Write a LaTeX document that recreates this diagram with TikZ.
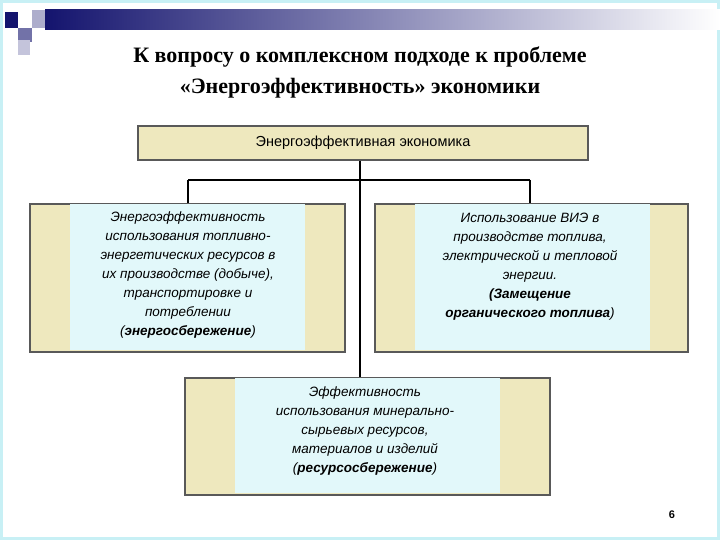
\documentclass[tikz,border=0pt]{standalone}
\usepackage{fontspec}
\setmainfont{Liberation Sans}
\newfontfamily\serifb{Liberation Serif}
\definecolor{beige}{RGB}{238,232,190}
\definecolor{cyanin}{RGB}{226,248,250}
\definecolor{navy}{RGB}{20,20,110}
\definecolor{bord}{RGB}{200,240,245}
\begin{document}
\begin{tikzpicture}[x=1pt,y=-1pt,
  outer/.style={draw=gray!70!black,line width=1.2pt,fill=beige},
  inner/.style={fill=cyanin},
  txt/.style={align=center,font=\fontsize{13.5}{19}\selectfont\itshape},
  conn/.style={line width=1.3pt}]
\useasboundingbox (0,0) rectangle (720,540);
\fill[white] (0,0) rectangle (720,540);
\draw[bord,line width=3pt] (1.5,1.5) rectangle (718.5,538.5);
% header bar
\shade[left color=navy,right color=white] (45,10) rectangle (720,30);
\fill[navy] (5,12) rectangle (18,28);
\fill[navy!60!white] (18,28) rectangle (32,42);
\fill[navy!35!white] (32,10) rectangle (45,28);
\fill[navy!25!white] (18,40) rectangle (30,55);
% title
\node (title) [font=\serifb\bfseries\fontsize{22}{31}\selectfont,align=center] at (360,72) {К вопросу о комплексном подходе к проблеме\\«Энергоэффективность» экономики};
% top box
\node (top) [outer,minimum width=450,minimum height=34,font=\fontsize{14.5}{16}\selectfont] at (363,143) {Энергоэффективная экономика};
% connectors
\coordinate (j) at (360,180);
\coordinate (jl) at (188,180);
\coordinate (jr) at (530,180);
\draw[conn] (top.south -| j) -- (360,378);
\draw[conn] (jl) -- (jr);
\draw[conn] (jl) -- (188,204);
\draw[conn] (jr) -- (530,204);
% left box
\draw[outer] (30,204) rectangle (345,352);
\fill[inner] (70,204) rectangle (305,350);
\node (left) [txt] at (188,275) {Энергоэффективность\\использования топливно-\\энергетических ресурсов в\\их производстве (добыче),\\транспортировке и\\потреблении\\({\bfseries энергосбережение})};
% right box
\draw[outer] (375,204) rectangle (688,352);
\fill[inner] (415,204) rectangle (650,350);
\node (right) [txt] at (530,267) {Использование ВИЭ в\\производстве топлива,\\электрической и тепловой\\энергии.\\{\bfseries (Замещение}\\{\bfseries органического топлива})};
% bottom box
\draw[outer] (185,378) rectangle (550,495);
\fill[inner] (235,378) rectangle (500,493);
\node (bottom) [txt] at (365,431) {Эффективность\\использования минерально-\\сырьевых ресурсов,\\материалов и изделий\\({\bfseries ресурсосбережение})};
\node (page) [font=\bfseries\fontsize{11}{13}\selectfont] at (672,515) {6};
\end{tikzpicture}
\end{document}
